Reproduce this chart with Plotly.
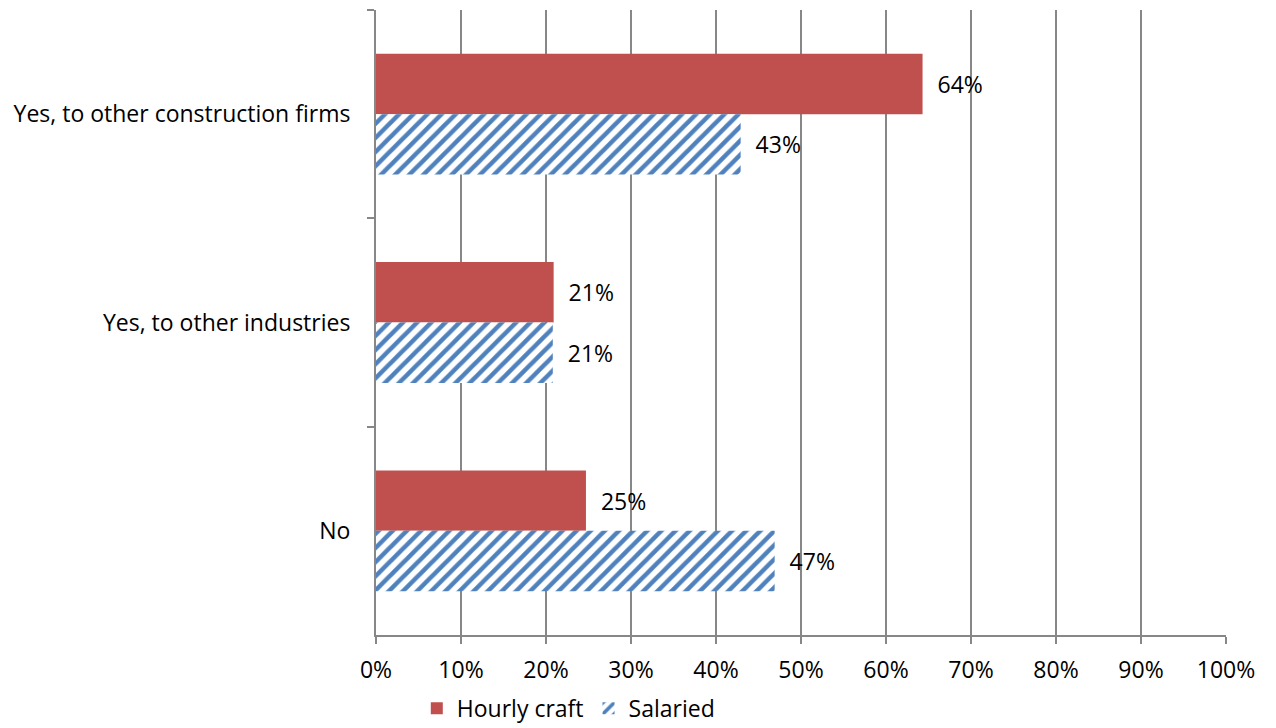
import plotly.graph_objects as go

categories = ["Yes, to other construction firms", "Yes, to other industries", "No"]
hourly_craft = [64.3, 20.9, 24.7]
salaried = [42.9, 20.8, 46.9]
x_ticks = list(range(0, 101, 10))

FONT = "Open Sans"
FS = 23
GRID = "#878787"
PAD = "\u00a0\u00a0"

fig = go.Figure()
fig.add_trace(go.Bar(
    name="Hourly craft", y=categories, x=hourly_craft, orientation="h",
    marker=dict(color="#C0504D", line=dict(width=0)),
    text=[f"{PAD}{v:.0f}%" for v in hourly_craft], textposition="outside",
    textfont=dict(size=FS, color="black", family=FONT), cliponaxis=False,
))
fig.add_trace(go.Bar(
    name="Salaried", y=categories, x=salaried, orientation="h",
    marker=dict(color="white", line=dict(width=0),
                pattern=dict(shape="/", fgcolor="#4F81BD", bgcolor="white",
                             fgopacity=1, size=10, solidity=0.45)),
    text=[f"{PAD}{v:.0f}%" for v in salaried], textposition="outside",
    textfont=dict(size=FS, color="black", family=FONT), cliponaxis=False,
))

fig.update_layout(
    width=1276, height=728,
    margin=dict(l=376, r=50, t=10, b=93, autoexpand=False),
    paper_bgcolor="white", plot_bgcolor="white",
    barmode="group", bargap=0.42, bargroupgap=0,
    font=dict(family=FONT, size=FS, color="black"),
    showlegend=True,
    legend=dict(orientation="h", x=0.048, y=-0.083, xanchor="left", yanchor="top",
                font=dict(size=FS), itemwidth=30, tracegroupgap=0),
)
fig.update_xaxes(
    range=[0, 100], tickvals=x_ticks, ticktext=[f"{v}%" for v in x_ticks],
    showgrid=True, gridcolor=GRID, gridwidth=2,
    showline=True, linecolor=GRID, linewidth=2,
    ticks="outside", ticklen=7, tickcolor=GRID, tickwidth=2,
    zeroline=False, ticklabelstandoff=6,
)
fig.update_yaxes(
    categoryorder="array", categoryarray=categories, autorange="reversed",
    showgrid=False, showline=True, linecolor=GRID, linewidth=2,
    ticks="outside", tickson="boundaries", ticklen=7, tickcolor=GRID, tickwidth=2,
    ticklabelstandoff=19,
)

fig.write_html("out.html", config={"displayModeBar": False},
               post_script="document.body.style.margin='0px';")
